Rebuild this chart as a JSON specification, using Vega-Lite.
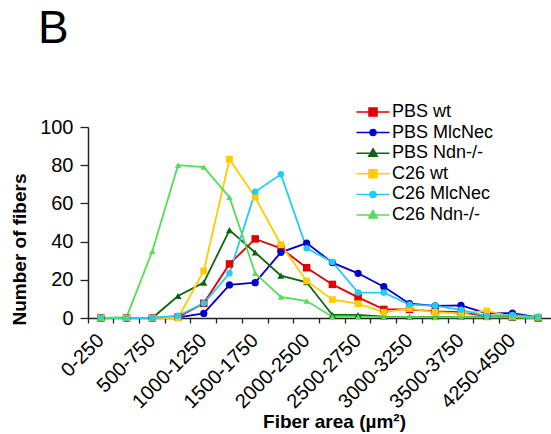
{
  "$schema": "https://vega.github.io/schema/vega-lite/v6.json",
  "width": 463,
  "height": 191,
  "autosize": {"type": "none"},
  "padding": {"left": 88, "top": 127, "right": 0, "bottom": 116},
  "background": "white",
  "title": {"text": "B", "font": "Liberation Sans", "fontSize": 46, "fontWeight": "normal", "color": "black", "anchor": "start", "frame": "group", "dx": -50, "offset": 50},
  "config": {"view": {"stroke": null}},
  "data": {"values": [
    {"s":"PBS wt","bin":"0-250","n":0},{"s":"PBS wt","bin":"250-500","n":0},{"s":"PBS wt","bin":"500-750","n":0},{"s":"PBS wt","bin":"750-1000","n":0.5},{"s":"PBS wt","bin":"1000-1250","n":7.7},{"s":"PBS wt","bin":"1250-1500","n":28.3},{"s":"PBS wt","bin":"1500-1750","n":41.4},{"s":"PBS wt","bin":"1750-2000","n":36.5},{"s":"PBS wt","bin":"2000-2500","n":26.3},{"s":"PBS wt","bin":"2250-2500","n":17.6},{"s":"PBS wt","bin":"2500-2750","n":10.8},{"s":"PBS wt","bin":"2750-3000","n":4.5},{"s":"PBS wt","bin":"3000-3250","n":4.5},{"s":"PBS wt","bin":"3250-3500","n":3.5},{"s":"PBS wt","bin":"3500-3750","n":3},{"s":"PBS wt","bin":"3750-4000","n":1},{"s":"PBS wt","bin":"4250-4500","n":0.5},{"s":"PBS wt","bin":"4500-4750","n":0},
    {"s":"PBS MlcNec","bin":"0-250","n":0},{"s":"PBS MlcNec","bin":"250-500","n":0},{"s":"PBS MlcNec","bin":"500-750","n":0},{"s":"PBS MlcNec","bin":"750-1000","n":0.3},{"s":"PBS MlcNec","bin":"1000-1250","n":2.4},{"s":"PBS MlcNec","bin":"1250-1500","n":17.3},{"s":"PBS MlcNec","bin":"1500-1750","n":18.5},{"s":"PBS MlcNec","bin":"1750-2000","n":34.4},{"s":"PBS MlcNec","bin":"2000-2500","n":39.2},{"s":"PBS MlcNec","bin":"2250-2500","n":29},{"s":"PBS MlcNec","bin":"2500-2750","n":23.4},{"s":"PBS MlcNec","bin":"2750-3000","n":16.4},{"s":"PBS MlcNec","bin":"3000-3250","n":7.5},{"s":"PBS MlcNec","bin":"3250-3500","n":6.4},{"s":"PBS MlcNec","bin":"3500-3750","n":6.6},{"s":"PBS MlcNec","bin":"3750-4000","n":2.4},{"s":"PBS MlcNec","bin":"4250-4500","n":2.5},{"s":"PBS MlcNec","bin":"4500-4750","n":0.3},
    {"s":"PBS Ndn-/-","bin":"0-250","n":0},{"s":"PBS Ndn-/-","bin":"250-500","n":0},{"s":"PBS Ndn-/-","bin":"500-750","n":0},{"s":"PBS Ndn-/-","bin":"750-1000","n":11.5},{"s":"PBS Ndn-/-","bin":"1000-1250","n":18.5},{"s":"PBS Ndn-/-","bin":"1250-1500","n":46},{"s":"PBS Ndn-/-","bin":"1500-1750","n":34.3},{"s":"PBS Ndn-/-","bin":"1750-2000","n":22.2},{"s":"PBS Ndn-/-","bin":"2000-2500","n":18.7},{"s":"PBS Ndn-/-","bin":"2250-2500","n":1.6},{"s":"PBS Ndn-/-","bin":"2500-2750","n":1.6},{"s":"PBS Ndn-/-","bin":"2750-3000","n":0.7},{"s":"PBS Ndn-/-","bin":"3000-3250","n":0.5},{"s":"PBS Ndn-/-","bin":"3250-3500","n":0.5},{"s":"PBS Ndn-/-","bin":"3500-3750","n":0.5},{"s":"PBS Ndn-/-","bin":"3750-4000","n":0.5},{"s":"PBS Ndn-/-","bin":"4250-4500","n":0.3},{"s":"PBS Ndn-/-","bin":"4500-4750","n":0},
    {"s":"C26 wt","bin":"0-250","n":0},{"s":"C26 wt","bin":"250-500","n":0},{"s":"C26 wt","bin":"500-750","n":0},{"s":"C26 wt","bin":"750-1000","n":0},{"s":"C26 wt","bin":"1000-1250","n":24.6},{"s":"C26 wt","bin":"1250-1500","n":83.1},{"s":"C26 wt","bin":"1500-1750","n":63.2},{"s":"C26 wt","bin":"1750-2000","n":38.4},{"s":"C26 wt","bin":"2000-2500","n":19.4},{"s":"C26 wt","bin":"2250-2500","n":9.6},{"s":"C26 wt","bin":"2500-2750","n":7.5},{"s":"C26 wt","bin":"2750-3000","n":3},{"s":"C26 wt","bin":"3000-3250","n":5},{"s":"C26 wt","bin":"3250-3500","n":3},{"s":"C26 wt","bin":"3500-3750","n":2.4},{"s":"C26 wt","bin":"3750-4000","n":3.7},{"s":"C26 wt","bin":"4250-4500","n":0.7},{"s":"C26 wt","bin":"4500-4750","n":0.6},
    {"s":"C26 MlcNec","bin":"0-250","n":0},{"s":"C26 MlcNec","bin":"250-500","n":0},{"s":"C26 MlcNec","bin":"500-750","n":0},{"s":"C26 MlcNec","bin":"750-1000","n":1.2},{"s":"C26 MlcNec","bin":"1000-1250","n":7.7},{"s":"C26 MlcNec","bin":"1250-1500","n":23.4},{"s":"C26 MlcNec","bin":"1500-1750","n":66.1},{"s":"C26 MlcNec","bin":"1750-2000","n":75.2},{"s":"C26 MlcNec","bin":"2000-2500","n":36.5},{"s":"C26 MlcNec","bin":"2250-2500","n":29.3},{"s":"C26 MlcNec","bin":"2500-2750","n":13.3},{"s":"C26 MlcNec","bin":"2750-3000","n":13.3},{"s":"C26 MlcNec","bin":"3000-3250","n":7},{"s":"C26 MlcNec","bin":"3250-3500","n":6.4},{"s":"C26 MlcNec","bin":"3500-3750","n":4.3},{"s":"C26 MlcNec","bin":"3750-4000","n":1},{"s":"C26 MlcNec","bin":"4250-4500","n":1.6},{"s":"C26 MlcNec","bin":"4500-4750","n":0.5},
    {"s":"C26 Ndn-/-","bin":"0-250","n":0},{"s":"C26 Ndn-/-","bin":"250-500","n":0.5},{"s":"C26 Ndn-/-","bin":"500-750","n":35},{"s":"C26 Ndn-/-","bin":"750-1000","n":80},{"s":"C26 Ndn-/-","bin":"1000-1250","n":79},{"s":"C26 Ndn-/-","bin":"1250-1500","n":63.2},{"s":"C26 Ndn-/-","bin":"1500-1750","n":23.4},{"s":"C26 Ndn-/-","bin":"1750-2000","n":11},{"s":"C26 Ndn-/-","bin":"2000-2500","n":8.9},{"s":"C26 Ndn-/-","bin":"2250-2500","n":0.7},{"s":"C26 Ndn-/-","bin":"2500-2750","n":0.7},{"s":"C26 Ndn-/-","bin":"2750-3000","n":0.5},{"s":"C26 Ndn-/-","bin":"3000-3250","n":0.5},{"s":"C26 Ndn-/-","bin":"3250-3500","n":0.3},{"s":"C26 Ndn-/-","bin":"3500-3750","n":0.5},{"s":"C26 Ndn-/-","bin":"3750-4000","n":0.3},{"s":"C26 Ndn-/-","bin":"4250-4500","n":0.3},{"s":"C26 Ndn-/-","bin":"4500-4750","n":0}
  ]},
  "encoding": {
    "x": {"field": "bin", "type": "nominal",
      "scale": {"type": "band", "domain": ["0-250","250-500","500-750","750-1000","1000-1250","1250-1500","1500-1750","1750-2000","2000-2500","2250-2500","2500-2750","2750-3000","3000-3250","3250-3500","3500-3750","3750-4000","4250-4500","4500-4750"], "paddingInner": 0, "paddingOuter": 0},
      "axis": {"title": "Fiber area (µm²)", "bandPosition": 0, "labelAngle": -45, "labelAlign": "right", "labelBaseline": "middle",
        "labelExpr": "indexof(['0-250','500-750','1000-1250','1500-1750','2000-2500','2500-2750','3000-3250','3500-3750','4250-4500'], datum.value) >= 0 ? datum.label : ''",
        "labelFont": "Liberation Sans", "labelFontSize": 20, "labelColor": "black", "labelPadding": 14, "tickSize": 5, "tickColor": "#222", "tickWidth": 1.3, "domainColor": "#222", "domainWidth": 1.5,
        "titleFont": "Liberation Sans", "titleFontSize": 19, "titleFontWeight": "bold", "titleColor": "black", "titleX": 246, "titleY": 109, "titleBaseline": "alphabetic", "titleAlign": "center"}},
    "y": {"field": "n", "type": "quantitative",
      "scale": {"domain": [0, 100], "nice": false},
      "axis": {"title": "Number of fibers", "values": [0, 20, 40, 60, 80, 100], "grid": false,
        "labelFont": "Liberation Sans", "labelFontSize": 20, "labelColor": "black", "labelPadding": 7, "tickSize": 8, "tickColor": "#222", "tickWidth": 1.3, "domainColor": "#222", "domainWidth": 1.5,
        "titleFont": "Liberation Sans", "titleFontSize": 19, "titleFontWeight": "bold", "titleColor": "black", "titleX": -63, "titleY": 122, "titleBaseline": "alphabetic", "titleAlign": "center"}}
  },
  "layer": [
    {"mark": {"type": "line", "strokeWidth": 1.8},
     "encoding": {
       "color": {"field": "s", "type": "nominal", "legend": null,
         "scale": {"domain": ["PBS wt","PBS MlcNec","PBS Ndn-/-","C26 wt","C26 MlcNec","C26 Ndn-/-"], "range": ["#e00000","#0000cc","#0b6410","#ffcc00","#22ccf5","#55dd55"]}}}},
    {"mark": {"type": "point", "filled": true, "opacity": 1},
     "encoding": {
       "color": {"field": "s", "type": "nominal", "legend": null,
         "scale": {"domain": ["PBS wt","PBS MlcNec","PBS Ndn-/-","C26 wt","C26 MlcNec","C26 Ndn-/-"], "range": ["#e00000","#0000cc","#0b6410","#ffcc00","#22ccf5","#55dd55"]}},
       "shape": {"field": "s", "type": "nominal", "legend": null,
         "scale": {"domain": ["PBS wt","PBS MlcNec","PBS Ndn-/-","C26 wt","C26 MlcNec","C26 Ndn-/-"], "range": ["square","circle","triangle-up","square","circle","triangle-up"]}},
       "size": {"field": "s", "type": "nominal", "legend": null,
         "scale": {"domain": ["PBS wt","PBS MlcNec","PBS Ndn-/-","C26 wt","C26 MlcNec","C26 Ndn-/-"], "range": [56, 40, 90, 60, 40, 90]}}
     }},
    {"transform": [{"filter": "datum.n < 0"}],
     "mark": {"type": "point", "filled": true, "strokeWidth": 1.5},
     "encoding": {
       "fill": {"field": "s", "type": "nominal",
         "scale": {"domain": ["PBS wt","PBS MlcNec","PBS Ndn-/-","C26 wt","C26 MlcNec","C26 Ndn-/-"], "range": ["#e00000","#0000cc","#0b6410","#ffcc00","#22ccf5","#55dd55"]},
         "legend": {"orient": "none", "legendX": 276, "legendY": -24, "title": null, "padding": 0, "labelFont": "Liberation Sans", "labelFontSize": 18, "labelColor": "black", "labelOffset": 10, "rowPadding": 2.6, "symbolSize": 100, "symbolStrokeWidth": 1.5, "symbolOpacity": 1}},
       "stroke": {"field": "s", "type": "nominal",
         "scale": {"domain": ["PBS wt","PBS MlcNec","PBS Ndn-/-","C26 wt","C26 MlcNec","C26 Ndn-/-"], "range": ["#e00000","#0000cc","#0b6410","#ffcc00","#22ccf5","#55dd55"]},
         "legend": {"orient": "none", "legendX": 276, "legendY": -24, "title": null, "padding": 0, "labelFont": "Liberation Sans", "labelFontSize": 18, "labelColor": "black", "labelOffset": 10, "rowPadding": 2.6, "symbolSize": 100, "symbolStrokeWidth": 1.5, "symbolOpacity": 1}},
       "shape": {"field": "s", "type": "nominal",
         "scale": {"domain": ["PBS wt","PBS MlcNec","PBS Ndn-/-","C26 wt","C26 MlcNec","C26 Ndn-/-"], "range": ["M-3.3,0H3.3M-0.8,-0.8H0.8V0.8H-0.8Z","M-3.3,0H3.3M-0.6,0A0.6,0.6,0,1,0,0.6,0A0.6,0.6,0,1,0,-0.6,0Z","M-3.3,0H3.3M0,-0.9L0.85,0.6H-0.85Z","M-3.3,0H3.3M-0.8,-0.8H0.8V0.8H-0.8Z","M-3.3,0H3.3M-0.6,0A0.6,0.6,0,1,0,0.6,0A0.6,0.6,0,1,0,-0.6,0Z","M-3.3,0H3.3M0,-0.9L0.85,0.6H-0.85Z"]},
         "legend": {"orient": "none", "legendX": 276, "legendY": -24, "title": null, "padding": 0, "labelFont": "Liberation Sans", "labelFontSize": 18, "labelColor": "black", "labelOffset": 10, "rowPadding": 2.6, "symbolSize": 100, "symbolStrokeWidth": 1.5, "symbolOpacity": 1}}
     }}
  ],
  "resolve": {"scale": {"color": "independent", "shape": "independent", "size": "independent", "fill": "independent", "stroke": "independent"}}
}
